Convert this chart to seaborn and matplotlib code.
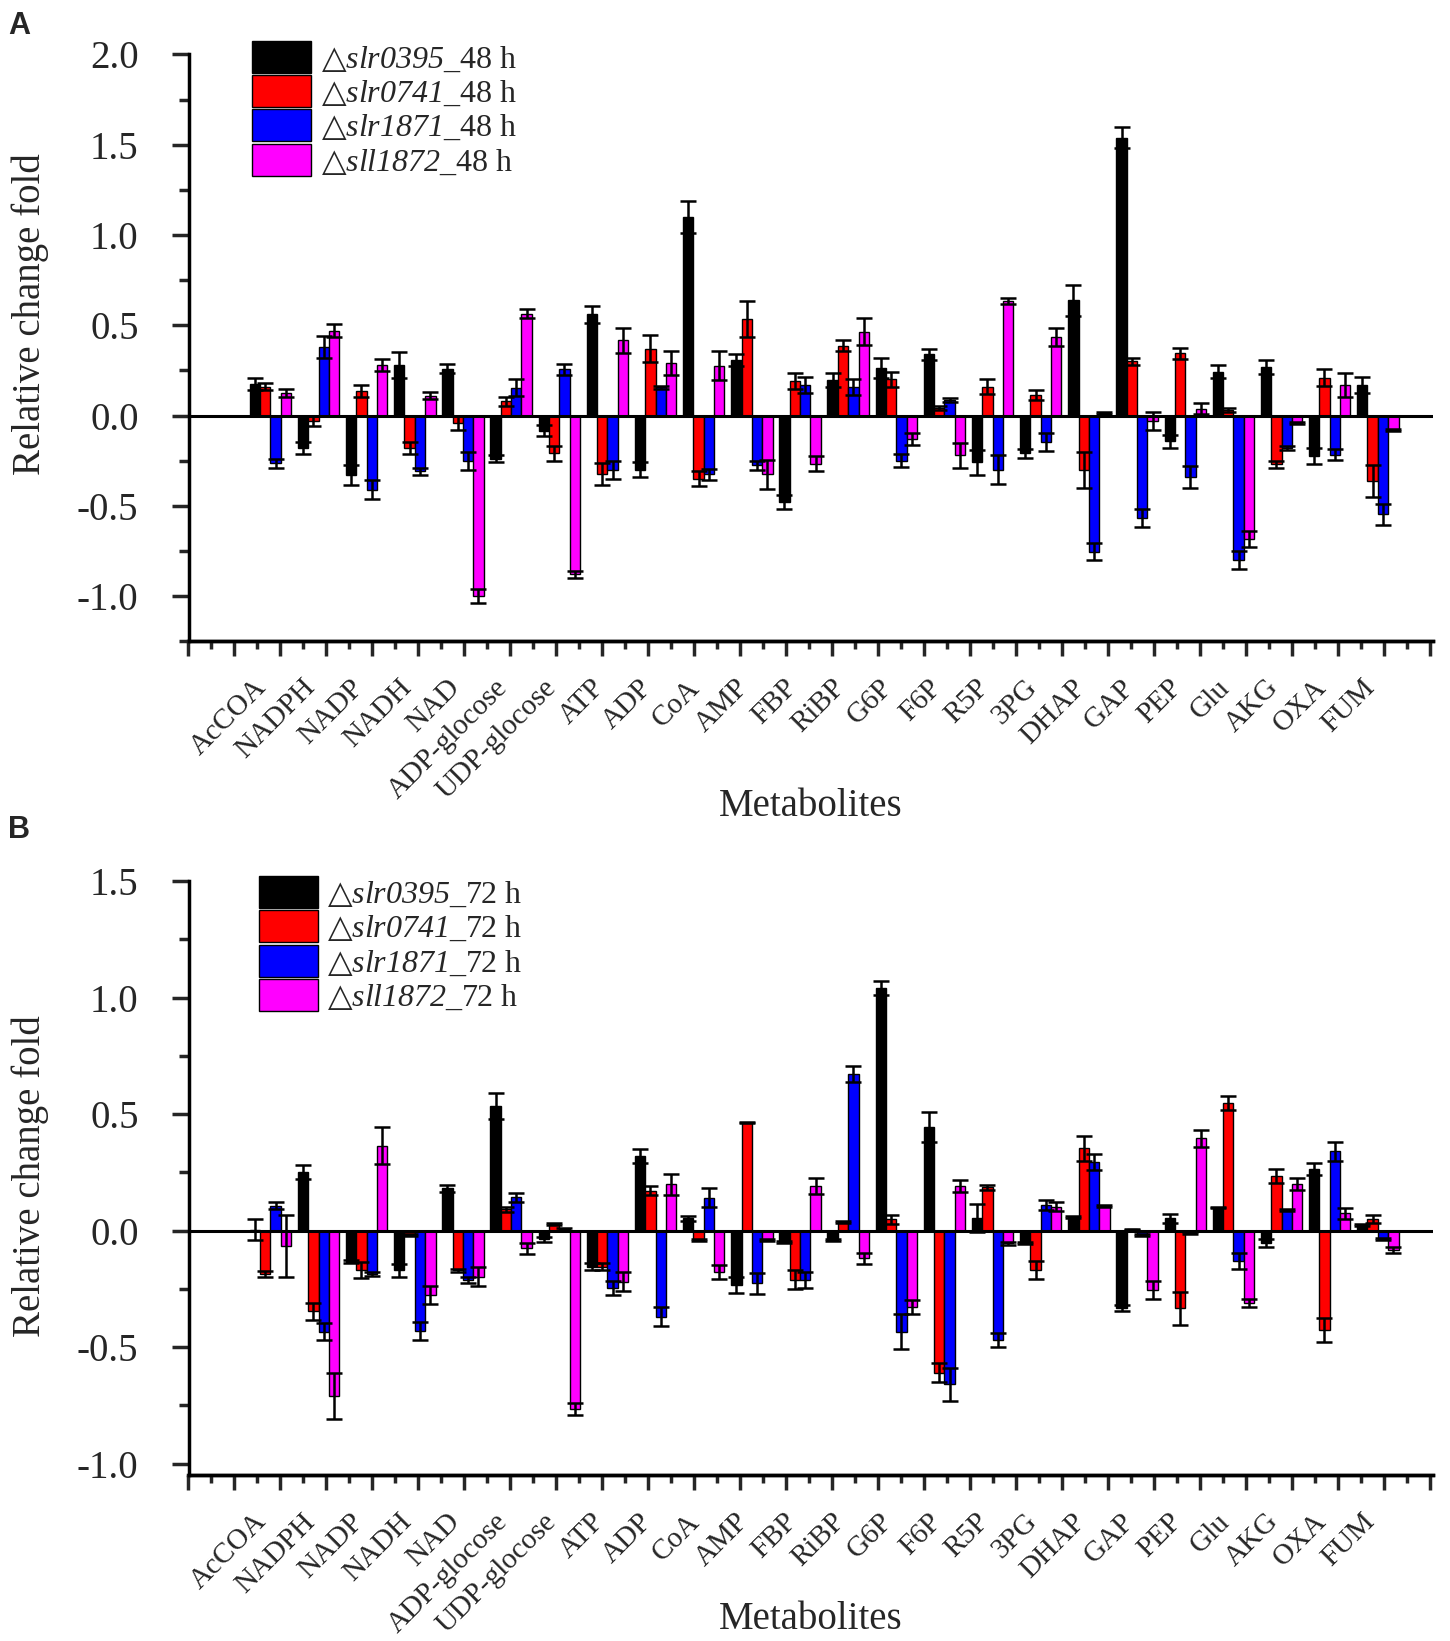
import numpy as np
import pandas as pd
import matplotlib
matplotlib.use("Agg")
import matplotlib.pyplot as plt
import seaborn as sns
from matplotlib.patches import Patch
from matplotlib.transforms import ScaledTranslation
from matplotlib.ticker import MultipleLocator, FixedLocator

# ---------------- data ----------------
metabolites = ["AcCOA", "NADPH", "NADP", "NADH", "NAD", "ADP-glocose", "UDP-glocose",
               "ATP", "ADP", "CoA", "AMP", "FBP", "RiBP", "G6P", "F6P", "R5P", "3PG",
               "DHAP", "GAP", "PEP", "Glu", "AKG", "OXA", "FUM"]
strains = ["slr0395", "slr0741", "slr1871", "sll1872"]
colors = ["#000000", "#FF0000", "#0000FF", "#FF00FF"]

# Panel A (48 h)
a_slr0395 = [0.175, -0.18, -0.33, 0.28, 0.26, -0.24, -0.085, 0.56, -0.30, 1.10, 0.307, -0.48,
             0.197, 0.263, 0.34, -0.26, -0.21, 0.638, 1.54, -0.143, 0.243, 0.27, -0.226, 0.17]
a_slr0741 = [0.16, -0.03, 0.135, -0.18, -0.04, 0.08, -0.21, -0.325, 0.37, -0.35, 0.537, 0.19,
             0.386, 0.20, 0.04, 0.16, 0.114, -0.30, 0.30, 0.344, 0.03, -0.27, 0.21, -0.364]
a_slr1871 = [-0.265, 0.38, -0.41, -0.31, -0.25, 0.155, 0.255, -0.30, 0.156, -0.325, -0.276, 0.17,
             0.156, -0.25, 0.086, -0.30, -0.147, -0.754, -0.566, -0.34, -0.80, -0.18, -0.217, -0.548]
a_sll1872 = [0.125, 0.47, 0.28, 0.11, -1.00, 0.565, -0.88, 0.417, 0.29, 0.276, -0.325, -0.267,
             0.465, -0.13, -0.22, 0.635, 0.436, 0.012, -0.03, 0.037, -0.686, -0.04, 0.17, -0.079]
a_slr0395_err = [0.035, 0.035, 0.055, 0.07, 0.025, 0.02, 0.03, 0.045, 0.04, 0.09, 0.035, 0.04,
                 0.04, 0.055, 0.03, 0.07, 0.025, 0.085, 0.06, 0.035, 0.035, 0.04, 0.045, 0.045]
a_slr0741_err = [0.02, 0.03, 0.035, 0.035, 0.04, 0.025, 0.04, 0.06, 0.075, 0.04, 0.10, 0.045,
                 0.03, 0.04, 0.01, 0.04, 0.03, 0.10, 0.02, 0.03, 0.01, 0.02, 0.045, 0.09]
a_slr1871_err = [0.025, 0.06, 0.05, 0.02, 0.05, 0.045, 0.03, 0.05, 0.01, 0.03, 0.025, 0.045,
                 0.045, 0.035, 0.01, 0.08, 0.05, 0.045, 0.05, 0.06, 0.05, 0.01, 0.03, 0.06]
a_sll1872_err = [0.02, 0.035, 0.035, 0.02, 0.04, 0.025, 0.02, 0.07, 0.065, 0.08, 0.08, 0.04,
                 0.075, 0.035, 0.07, 0.015, 0.05, 0.005, 0.05, 0.03, 0.045, 0.005, 0.065, 0.005]

# Panel B (72 h)
b_slr0395 = [0.003, 0.253, -0.133, -0.171, 0.181, 0.534, -0.037, -0.154, 0.321, 0.053, -0.233, -0.05,
             -0.04, 1.041, 0.446, 0.053, -0.054, 0.06, -0.333, 0.053, 0.099, -0.054, 0.263, 0.024]
b_slr0741 = [-0.186, -0.347, -0.169, -0.02, -0.171, 0.091, 0.029, -0.154, 0.171, -0.04, 0.463, -0.211,
             0.036, 0.049, -0.61, 0.186, -0.169, 0.353, 0.005, -0.333, 0.546, 0.234, -0.426, 0.05]
b_slr1871 = [0.106, -0.433, -0.186, -0.43, -0.211, 0.143, 0.005, -0.247, -0.369, 0.141, -0.226, -0.211,
             0.671, -0.433, -0.66, -0.469, 0.11, 0.296, -0.019, -0.01, -0.13, 0.089, 0.341, -0.036]
b_sll1872 = [-0.066, -0.709, 0.364, -0.276, -0.197, -0.076, -0.766, -0.219, 0.20, -0.176, -0.04, 0.191,
             -0.119, -0.326, 0.191, -0.055, 0.103, 0.106, -0.254, 0.396, -0.311, 0.199, 0.074, -0.083]
b_slr0395_err = [0.045, 0.03, 0.005, 0.03, 0.015, 0.055, 0.01, 0.015, 0.03, 0.01, 0.035, 0.005,
                 0.005, 0.03, 0.065, 0.06, 0.005, 0.005, 0.012, 0.02, 0.003, 0.017, 0.026, 0.005]
b_slr0741_err = [0.012, 0.035, 0.035, 0.005, 0.005, 0.01, 0.005, 0.015, 0.02, 0.005, 0.003, 0.04,
                 0.005, 0.02, 0.04, 0.012, 0.04, 0.055, 0.003, 0.07, 0.03, 0.03, 0.053, 0.017]
b_slr1871_err = [0.015, 0.035, 0.01, 0.04, 0.012, 0.02, 0.005, 0.03, 0.04, 0.04, 0.045, 0.035,
                 0.035, 0.075, 0.07, 0.03, 0.02, 0.035, 0.005, 0.005, 0.035, 0.005, 0.04, 0.005]
b_sll1872_err = [0.135, 0.10, 0.08, 0.04, 0.04, 0.025, 0.025, 0.04, 0.045, 0.03, 0.005, 0.035,
                 0.025, 0.03, 0.025, 0.005, 0.02, 0.005, 0.04, 0.035, 0.018, 0.025, 0.022, 0.011]

# ---------------- style ----------------
sns.set_style("white")
plt.rcParams["font.family"] = ["Liberation Serif", "DejaVu Sans"]
plt.rcParams["mathtext.fontset"] = "custom"
plt.rcParams["mathtext.rm"] = "Liberation Serif"
plt.rcParams["mathtext.it"] = "Liberation Serif:italic"
plt.rcParams["mathtext.sf"] = "Liberation Serif:italic"
plt.rcParams["mathtext.cal"] = "DejaVu Sans"
plt.rcParams["axes.unicode_minus"] = False

fig = plt.figure(figsize=(14.5, 16.41), dpi=100)
axA = fig.add_axes([0.130, 0.6093, 0.8584, 0.3575])
axB = fig.add_axes([0.130, 0.1010, 0.8584, 0.3620])


def draw_panel(ax, vals, errs, hours, ylim, xlab_y, ylab_y, leg_anchor):
    df = pd.DataFrame({
        "metabolite": np.tile(metabolites, len(strains)),
        "strain": np.repeat(strains, len(metabolites)),
        "value": np.concatenate(vals),
    })
    sns.barplot(data=df, x="metabolite", y="value", hue="strain",
                order=metabolites, hue_order=strains, palette=colors,
                saturation=1, edgecolor="black", linewidth=1.0, width=0.86,
                errorbar=None, legend=False, ax=ax, zorder=2)
    for cont, v, e in zip(ax.containers, vals, errs):
        xs = [b.get_x() + b.get_width() / 2 for b in cont]
        ax.errorbar(xs, v, yerr=e, fmt="none", ecolor="black", elinewidth=1.8,
                    capsize=5.5, capthick=1.8, zorder=3)
    ax.axhline(0, color="black", lw=2.2, zorder=4)

    ax.set_xlim(-1.7, 24.15)
    ax.set_ylim(*ylim)
    for s in ["top", "right"]:
        ax.spines[s].set_visible(False)
    for s in ["left", "bottom"]:
        ax.spines[s].set_linewidth(2.5)
        ax.spines[s].set_color("black")

    # y ticks
    ax.yaxis.set_major_locator(MultipleLocator(0.5))
    ax.yaxis.set_minor_locator(MultipleLocator(0.25))
    ax.yaxis.set_major_formatter(plt.FuncFormatter(lambda v, p: f"{v:.1f}"))
    ax.tick_params(axis="y", which="major", direction="out", length=12, width=2.5,
                   labelsize=28, pad=24, left=True)
    ax.tick_params(axis="y", which="minor", direction="out", length=7, width=2.5, left=True)

    # x labels (no tick marks here)
    ax.tick_params(axis="x", which="both", length=0, labelsize=21, pad=24)
    ax.set_xticks(range(len(metabolites)))
    ax.set_xticklabels(metabolites, rotation=45, ha="right", rotation_mode="anchor")
    off = ScaledTranslation(-12 / 72, 0, fig.dpi_scale_trans)
    for lbl in ax.get_xticklabels():
        lbl.set_transform(lbl.get_transform() + off)

    # tick marks along x axis
    sec = ax.secondary_xaxis("bottom")
    major = np.arange(-1.7, 24.2, 0.955)
    sec.xaxis.set_major_locator(FixedLocator(major))
    sec.xaxis.set_minor_locator(FixedLocator(major[:-1] + 0.4775))
    sec.tick_params(which="major", direction="out", length=11, width=2.5, labelbottom=False)
    sec.tick_params(which="minor", direction="out", length=6, width=2.5, labelbottom=False)
    sec.spines["bottom"].set_linewidth(2.5)

    ax.set_xlabel("Metabolites", fontsize=28)
    ax.xaxis.set_label_coords(0.5, xlab_y)
    ax.set_ylabel("Relative change fold", fontsize=28)
    ax.yaxis.set_label_coords(-0.112, ylab_y)

    handles = [Patch(facecolor=c, edgecolor="black", linewidth=1.0) for c in colors]
    labels = [f"$\\mathcal{{\u25b3}}\\mathsf{{{s}}}$_{hours} h" for s in strains]
    ax.legend(handles, labels, loc="upper left", bbox_to_anchor=leg_anchor,
              frameon=False, fontsize=23, handlelength=1.85, handleheight=1.15,
              handletextpad=0.3, labelspacing=0.02, borderaxespad=0)


draw_panel(axA, [a_slr0395, a_slr0741, a_slr1871, a_sll1872],
           [a_slr0395_err, a_slr0741_err, a_slr1871_err, a_sll1872_err],
           48, (-1.25, 2.0), -0.25, 0.558, (0.041, 1.045))
draw_panel(axB, [b_slr0395, b_slr0741, b_slr1871, b_sll1872],
           [b_slr0395_err, b_slr0741_err, b_slr1871_err, b_sll1872_err],
           72, (-1.05, 1.5), -0.212, 0.503, (0.046, 1.03))

fig.text(0.013, 0.984, "A", fontsize=22, fontweight="bold", family="Liberation Sans",
         ha="center", va="center")
fig.text(0.013, 0.494, "B", fontsize=22, fontweight="bold", family="Liberation Sans",
         ha="center", va="center")

fig.savefig("out.png", dpi=100)
